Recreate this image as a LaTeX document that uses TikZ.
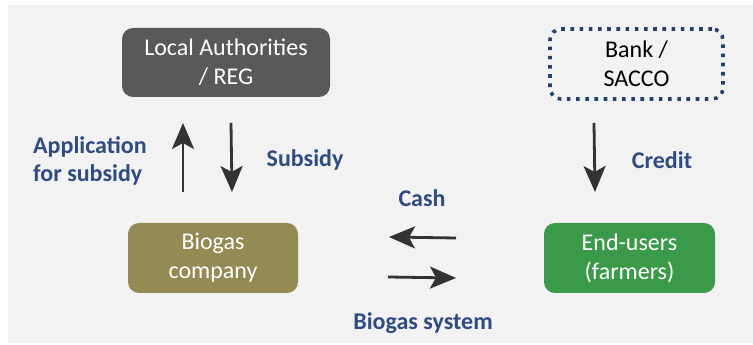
\documentclass[tikz,border=0pt]{standalone}
\usepackage{fontspec}
\setmainfont{Carlito}
\usetikzlibrary{arrows.meta}
\definecolor{bgray}{HTML}{F2F2F2}
\definecolor{authgray}{HTML}{595959}
\definecolor{olivebox}{HTML}{948A54}
\definecolor{greenbox}{HTML}{3B9A4A}
\definecolor{navy}{HTML}{263F6A}
\definecolor{lblue}{HTML}{2F4B80}
\definecolor{arrowgray}{HTML}{333333}
\tikzset{
  x=1pt, y=1pt,
  txt/.style={font=\fontsize{24}{29}\selectfont, align=center, inner sep=0pt},
  boxnode/.style={txt, rounded corners=11pt, text=white},
  lbl/.style={font=\fontsize{24}{28}\bfseries\selectfont, text=lblue, inner sep=0pt},
  sketch/.style={draw=arrowgray, line width=2.8pt, -{Stealth[length=26pt, width=22pt, inset=6pt]}}
}
\begin{document}
\begin{tikzpicture}
\useasboundingbox (0,0) rectangle (753,345);
\fill[white] (0,0) rectangle (753,345);
\fill[bgray] (8,2) rectangle (753,340);

\node[boxnode, fill=authgray, minimum width=208pt, minimum height=69pt] (auth) at (226,282.5) {Local Authorities\\/ REG};
\node[txt, rounded corners=11pt, draw=navy, line width=3.6pt, dash pattern=on 3.6pt off 5.6pt, fill=bgray, text=black, minimum width=173pt, minimum height=70pt] (bank) at (636.5,281) {Bank /\\SACCO};
\node[boxnode, fill=olivebox, minimum width=170pt, minimum height=70pt] (comp) at (213,87) {Biogas\\company};
\node[boxnode, fill=greenbox, minimum width=171pt, minimum height=70pt] (users) at (629.5,87) {End-users\\(farmers)};

\coordinate (upS) at (183,153);
\coordinate (upE) at (183,222);
\coordinate (dnS) at (231,222);
\coordinate (dnE) at (232,153);
\coordinate (crS) at (594,222);
\coordinate (crE) at (595,153);
\coordinate (caS) at (456,107);
\coordinate (caE) at (389,108);
\coordinate (bsS) at (388,68);
\coordinate (bsE) at (456,67);

\draw[sketch] (upS) -- (upE);
\draw[sketch] (dnS) -- (dnE);
\draw[sketch] (crS) -- (crE);
\draw[sketch] (caS) -- (caE);
\draw[sketch] (bsS) -- (bsE);

\node[lbl, align=left, anchor=west] (app) at (33,184) {Application\\for subsidy};
\node[lbl] (sub) at (305,185) {Subsidy};
\node[lbl] (cred) at (662,185) {Credit};
\node[lbl] (cash) at (422,147) {Cash};
\node[lbl] (bsys) at (423,22) {Biogas system};
\end{tikzpicture}
\end{document}
